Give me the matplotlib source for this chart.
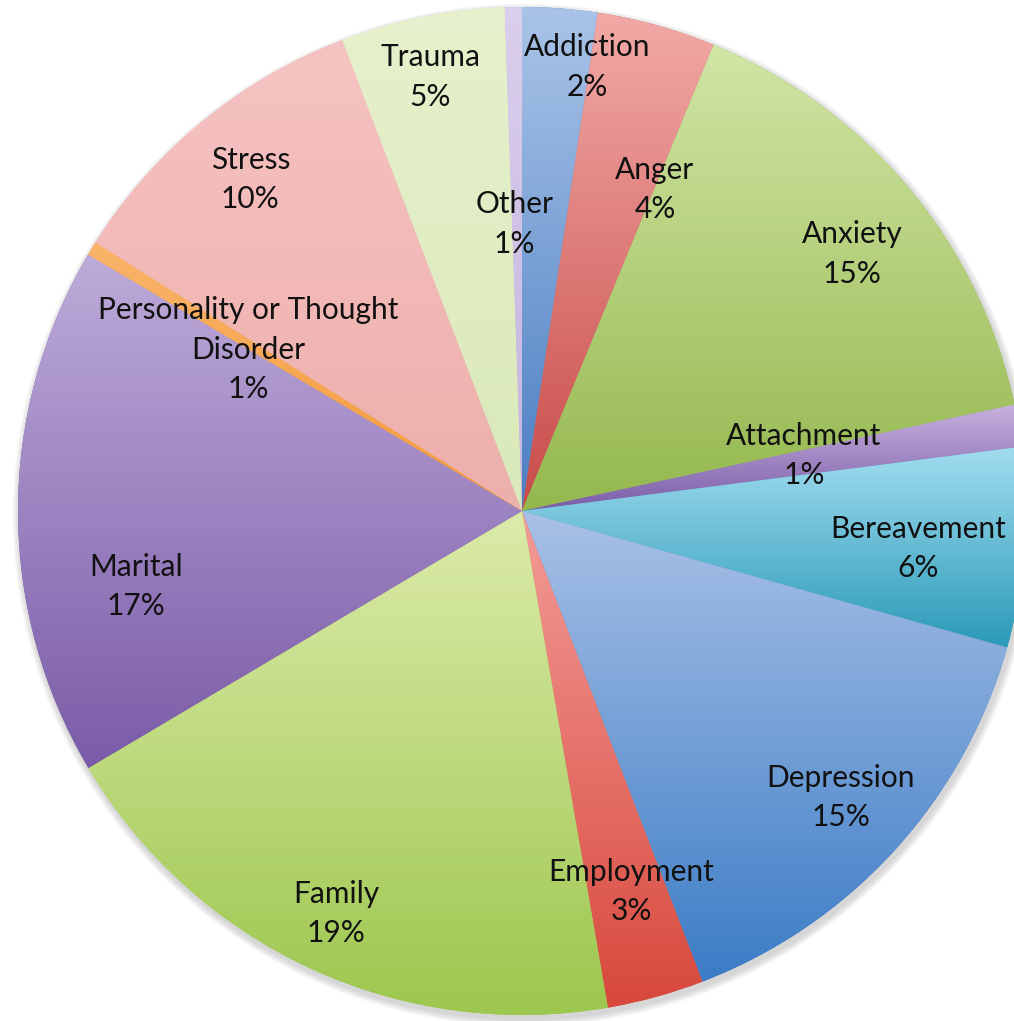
import numpy as np
import matplotlib
matplotlib.use("Agg")
import matplotlib.pyplot as plt
from matplotlib.colors import to_rgb
from matplotlib.patches import Circle

# ── data (clockwise from 12 o'clock) ──
categories = ["Addiction", "Anger", "Anxiety", "Attachment", "Bereavement",
              "Depression", "Employment", "Family", "Marital",
              "Personality or Thought\nDisorder", "Stress", "Trauma", "Other"]
shares = [2.4, 3.8, 15.4, 1.35, 6.4, 14.8, 3.1, 19.2, 17.0, 0.45, 10.25, 5.25, 0.55]
pct_labels = ["2%", "4%", "15%", "1%", "6%", "15%", "3%", "19%", "17%",
              "1%", "10%", "5%", "1%"]

# gradient fill per slice: light at the top of the slice, darker at the bottom
TOP_COLORS = ["#aac4e8", "#f2aaa7", "#d2e5a6", "#c8b2de", "#a2ddf0", "#a9c1e6",
              "#f39c98", "#dcebaa", "#bdabd9", "#f9b46a", "#f6c3c3", "#e7f1cd",
              "#dacfec"]
BOTTOM_COLORS = ["#4a7ec2", "#c84b48", "#94b84e", "#7a5ca8", "#2a9ab8", "#3b7cc6",
                 "#d8483c", "#9dc74e", "#7b5ba8", "#f49a3c", "#edafab", "#d9e9b8",
                 "#c5b3df"]

# label placement: fraction of the radius and angular nudge (deg, clockwise)
LABEL_R = [0.89, 0.69, 0.83, 0.57, 0.79, 0.85, 0.785, 0.88, 0.78, 0.63, 0.85, 0.88, 0.57]
LABEL_SHIFT = [4.0, 7.0, 2.0, -1.4, 1.2, -0.4, -0.6, 0.0, -11.0, -0.9, 0.0, -0.5, -0.5]

W, H = 1014, 1021
CX, CY, R = 522, H - 511, 504

plt.rcParams['font.family'] = ['Lato', 'DejaVu Sans']

fig = plt.figure(figsize=(W / 100, H / 100), dpi=100)
ax = fig.add_axes([0, 0, 1, 1])

# soft shadow under the pie
for k in range(8):
    ax.add_patch(Circle((CX + 2, CY - 4), R + 1 + k * 0.9, color='#808080',
                        alpha=0.045, lw=0, zorder=0))

wedges, _ = ax.pie(shares, radius=R, center=(CX, CY), startangle=90,
                   counterclock=False, frame=True,
                   colors=BOTTOM_COLORS, wedgeprops=dict(linewidth=0))

for w, c_top, c_bot in zip(wedges, TOP_COLORS, BOTTOM_COLORS):
    w.set_zorder(1)
    ext = w.get_path().get_extents()
    x0, x1 = ext.x0, ext.x1
    y0, y1 = max(ext.y0, CY - R), min(ext.y1, CY + R)
    t = np.linspace(0, 1, 256)[:, None, None]
    grad = (1 - t) * np.array(to_rgb(c_top)) + t * np.array(to_rgb(c_bot))
    im = ax.imshow(grad, extent=(x0, x1, y0, y1), origin='upper',
                   aspect='auto', interpolation='bilinear', zorder=2)
    im.set_clip_path(w)

# labels
cum = np.cumsum([0] + shares[:-1])
total = sum(shares)
for i, (name, pct) in enumerate(zip(categories, pct_labels)):
    mid = (cum[i] + shares[i] / 2) / total * 360 + LABEL_SHIFT[i]
    th = np.deg2rad(90 - mid)
    x = CX + LABEL_R[i] * R * np.cos(th)
    y = CY + LABEL_R[i] * R * np.sin(th)
    ax.text(x, y, f"{name}\n{pct}", ha='center', va='center', fontsize=21.5,
            linespacing=1.5, color='#111111', zorder=5)

ax.set_aspect('auto')
ax.set_xlim(0, W)
ax.set_ylim(0, H)
ax.axis('off')

fig.savefig("out.png", dpi=100)
